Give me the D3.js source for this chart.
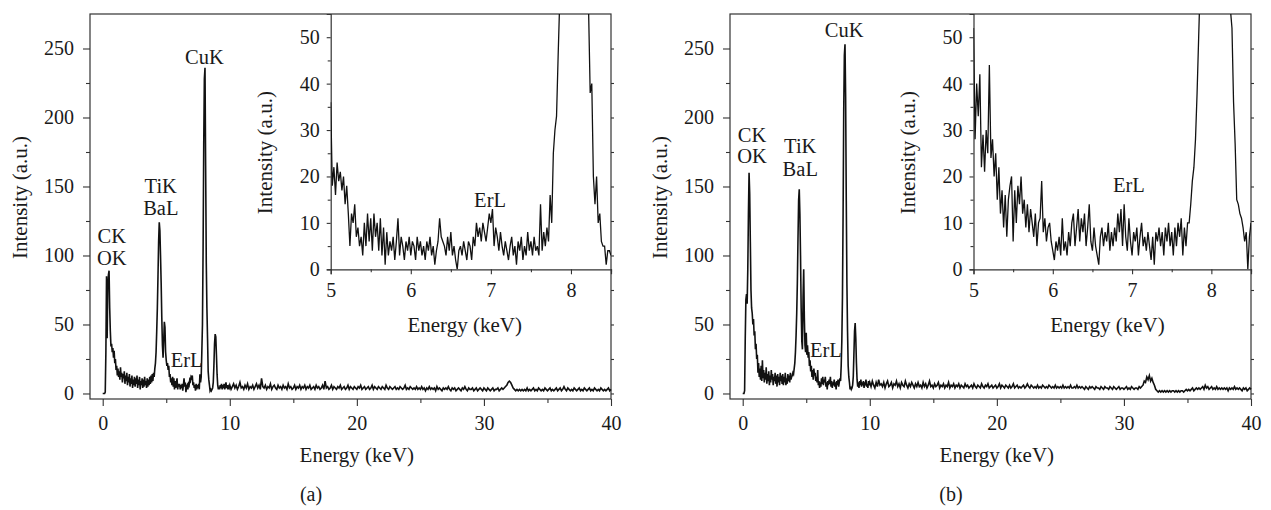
<!DOCTYPE html>
<html>
<head>
<meta charset="utf-8">
<script src="https://cdn.jsdelivr.net/npm/d3@7"></script>
<style>
  body { margin: 0; background: #fff; }
</style>
</head>
<body>
<div id="container"></div>
<script>
// EDS spectra, values (counts, a.u.)
// channel energies: 0-9.95 keV every 0.05, then 10-40 keV every 0.1, insets 5-8.5 keV every 0.02
var lowStep = 0.05;
var highStart = 10, highStep = 0.1;
var insetStart = 5, insetStep = 0.02;

var lowA = [
  0,0,0,0,1,30,85,40,78,86,
  89,62,45,34,36,30,33,26,31,22,
  25,17,20,13,18,12,16,10,19,12,
  15,8,14,11,16,7,13,9,15,6,
  12,8,14,5,11,7,13,4,10,6,
  12,5,11,7,13,4,10,6,12,3,
  9,6,11,4,10,5,12,6,9,4,
  11,5,10,6,12,7,13,8,14,9,
  15,12,18,22,30,45,62,85,110,124,
  118,100,80,55,35,26,38,52,48,30,
  24,20,22,17,20,12,14,8,11,6,
  12,5,11,3,9,4,8,11,3,7,
  5,7,3,6,4,7,2,6,11,5,
  8,1,5,6,3,7,6,10,9,12,
  11,13,6,8,4,6,2,7,3,6,
  4,7,3,14,8,12,30,50,105,180,
  228,236,165,95,62,40,16,10,6,2,
  3,2,3,4,8,20,36,43,41,28,
  14,6,3,5,3,6,4,7,3,6,
  4,7,3,5,8,4,6,3,5,4
];
var highA = [
  6,3,5,7,4,6,3,5,8,4,
  5,3,6,4,7,3,5,4,6,3,
  5,7,4,6,3,11,5,4,6,3,
  5,4,7,3,5,6,4,3,6,4,
  5,3,6,4,5,3,7,4,5,3,
  4,6,3,5,4,6,3,5,4,6,
  3,5,4,6,3,4,5,3,6,4,
  5,3,4,6,3,9,4,5,3,4,
  6,3,5,4,3,5,4,6,3,4,
  5,3,4,6,3,5,4,3,5,4,
  3,5,4,6,3,4,5,3,4,5,
  3,4,6,3,5,4,3,5,4,3,
  5,4,3,6,4,3,5,4,3,4,
  5,3,4,3,5,4,3,4,6,3,
  4,3,5,4,3,4,3,5,3,4,
  3,5,3,4,2,4,3,5,3,4,
  3,4,2,5,3,4,3,2,4,3,
  4,3,5,3,2,4,3,4,2,3,
  4,3,2,4,3,5,3,2,4,3,
  3,4,2,3,4,2,3,4,3,2,
  4,3,2,4,3,2,3,4,2,3,
  3,4,2,3,4,3,4,5,6,8,
  9,8,6,4,3,2,3,2,3,2,
  3,2,3,2,4,2,3,2,3,4,
  2,3,2,4,3,2,3,2,4,3,
  2,3,4,2,3,2,3,4,2,3,
  4,2,3,5,3,2,4,3,2,3,
  2,4,3,2,3,4,2,3,2,4,
  3,2,3,4,2,3,2,4,3,2,
  3,2,4,3,2,3,2,3,4,2,
  3
];
var insetA = [
  36,18,22,16,23,19,21,17,20,14,
  18,12,5,12,10,14,7,9,5,7,
  3,10,5,12,6,11,4,12,7,10,
  4,11,3,9,1,8,3,6,4,7,
  2,6,11,3,7,5,2,6,4,7,
  3,6,5,2,7,4,6,3,5,2,
  6,4,7,3,5,1,4,6,11,7,
  6,5,3,7,4,8,3,5,2,0,
  4,5,3,6,4,2,6,5,2,7,
  5,10,7,9,6,10,8,6,9,12,
  10,13,5,9,7,4,8,5,3,6,
  4,2,5,7,3,5,1,6,4,7,
  2,5,3,8,4,6,3,7,4,5,
  3,14,4,8,5,9,6,16,10,25,
  30,33,46,58,80,105,135,165,195,220,
  232,236,230,212,185,155,125,100,82,68,
  60,56,38,40,20,14,20,10,12,6,
  5,5,1,4,4,3
];

var lowB = [
  0,0,0,2,40,68,72,65,90,130,
  160,145,110,75,62,58,50,54,42,45,
  32,36,25,28,15,22,12,18,10,20,
  9,24,11,17,8,15,10,19,7,14,
  9,16,6,13,8,17,10,14,6,12,
  9,15,7,13,5,14,8,12,6,15,
  9,13,7,14,6,12,8,15,6,11,
  7,14,9,13,8,15,10,12,13,15,
  14,18,22,30,42,58,80,112,140,148,
  130,100,62,38,32,70,90,55,35,30,
  44,28,35,26,30,20,24,16,20,12,
  17,10,18,13,15,9,12,8,17,6,
  9,4,8,5,11,7,12,6,10,8,
  12,5,8,3,9,6,10,7,12,5,
  9,4,8,6,10,5,8,3,9,6,
  10,5,8,11,9,20,38,70,130,205,
  245,253,215,140,80,45,20,12,8,3,
  5,3,4,6,12,28,45,51,40,22,
  10,5,8,4,9,6,10,5,8,6,
  9,4,8,6,10,5,7,4,9,6
];
var highB = [
  8,5,9,6,4,8,5,10,6,7,
  5,8,4,7,9,5,6,8,4,7,
  6,9,5,7,4,8,6,5,9,6,
  4,7,5,8,6,4,7,5,8,5,
  6,4,8,5,7,4,6,9,5,6,
  4,7,5,6,8,4,6,5,7,4,
  6,5,8,4,6,5,7,4,6,5,
  7,4,6,5,4,7,5,6,4,5,
  6,4,7,5,4,6,5,4,7,5,
  4,6,5,7,4,5,6,4,5,6,
  4,5,7,4,6,5,4,6,5,4,
  6,4,5,7,4,5,6,4,5,4,
  5,6,4,5,7,5,4,6,5,4,
  5,4,6,4,5,4,6,5,4,5,
  4,6,5,4,5,4,6,4,5,4,
  5,4,6,4,5,4,5,4,6,4,
  4,5,4,6,4,5,4,5,4,3,
  5,4,3,5,4,5,4,3,5,4,
  4,3,5,4,3,5,4,4,3,5,
  4,3,5,4,3,4,5,3,4,4,
  3,4,5,3,4,3,5,4,3,4,
  4,3,5,4,5,6,9,8,12,10,
  13,9,11,8,6,3,2,1,2,1,
  2,1,2,1,2,1,2,1,2,2,
  1,2,1,2,1,2,2,1,2,3,
  2,3,2,3,4,2,3,4,3,4,
  3,4,5,3,6,4,5,3,4,5,
  3,4,3,5,3,4,3,4,3,4,
  3,4,2,4,3,4,3,5,3,4,
  3,4,3,2,4,3,4,2,3,4,
  3
];
var insetB = [
  52,28,40,33,42,22,29,21,30,25,
  44,24,28,20,25,15,22,12,17,9,
  16,7,15,18,20,6,17,10,18,14,
  20,12,15,9,14,8,13,10,7,12,
  5,10,11,19,8,11,6,9,10,6,
  4,2,6,4,7,3,11,4,6,3,
  8,5,10,12,5,9,13,6,11,8,
  12,5,9,14,6,4,9,5,3,1,
  7,9,5,8,6,10,4,8,5,9,
  6,12,8,13,5,14,7,4,11,6,
  3,8,6,9,3,7,10,5,7,4,
  8,5,2,7,1,8,6,9,5,8,
  3,9,6,10,5,8,3,9,5,10,
  7,11,3,9,5,10,10,14,19,22,
  28,38,50,62,85,115,150,190,225,245,
  253,250,235,210,180,150,120,95,78,66,
  60,57,56,52,36,27,15,14,12,11,
  9,6,8,0,7,10
];

// axes
var xTicks = [0, 10, 20, 30, 40], xMinor = [5, 15, 25, 35];
var yTicks = [0, 50, 100, 150, 200, 250], yMinor = [25, 75, 125, 175, 225];
var insetXTicks = [5, 6, 7, 8], insetXMinor = [5.5, 6.5, 7.5, 8.5];
var insetYTicks = [0, 10, 20, 30, 40, 50], insetYMinor = [5, 15, 25, 35, 45];

var font = "'Liberation Serif', 'Times New Roman', serif";
var ink = "#1a1a1a";

var svg = d3.select("#container")
  .append("svg")
    .attr("width", 1271)
    .attr("height", 510);

function styleAxis(sel, keepDomain) {
  if (!keepDomain) sel.select(".domain").remove();
  sel.attr("font-family", font).attr("font-size", 20);
  sel.selectAll("line").attr("stroke", "#333").attr("stroke-width", 1.1);
  sel.selectAll("text").attr("fill", ink);
}

function toPoints(vals, start, step) {
  return vals.map(function(v, i) { return [start + i * step, v]; });
}

function addText(parent, str, size) {
  return parent.append("text")
    .attr("text-anchor", "middle")
    .attr("font-family", font)
    .attr("font-size", size || 20.5)
    .attr("fill", ink)
    .text(str);
}

function drawPanel(p) {
  var w = 521, h = 385;
  var g = svg.append("g")
    .attr("transform", "translate(" + p.left + ",14)");

  var x = d3.scaleLinear().domain([-1, 40]).range([0, w]);
  var y = d3.scaleLinear().domain([-4, 275]).range([h, 0]);

  // Y axis (left, major + minor) and mirror ticks on the right
  g.append("g").call(d3.axisLeft(y).tickValues(yTicks).tickSize(7).tickPadding(9))
    .call(styleAxis);
  g.append("g").call(d3.axisLeft(y).tickValues(yMinor).tickSize(4).tickFormat(""))
    .call(styleAxis);
  g.append("g").attr("transform", "translate(" + w + ",0)")
    .call(d3.axisRight(y).tickValues(yTicks.concat(yMinor)).tickSize(3).tickFormat(""))
    .call(styleAxis);

  // X axis
  g.append("g").attr("transform", "translate(0," + h + ")")
    .call(d3.axisBottom(x).tickValues(xTicks).tickSize(7).tickPadding(10))
    .call(styleAxis);
  g.append("g").attr("transform", "translate(0," + h + ")")
    .call(d3.axisBottom(x).tickValues(xMinor).tickSize(4).tickFormat(""))
    .call(styleAxis);

  // frame
  g.append("rect")
    .attr("width", w).attr("height", h)
    .attr("fill", "none").attr("stroke", "#333").attr("stroke-width", 1.2);

  // spectrum
  var data = toPoints(p.low, 0, lowStep).concat(toPoints(p.high, highStart, highStep));
  var line = d3.line()
    .x(function(d) { return x(d[0]); })
    .y(function(d) { return y(d[1]); });

  g.append("path")
    .datum(data)
    .attr("d", line)
    .attr("fill", "none")
    .attr("stroke", "#111")
    .attr("stroke-width", 1.6);

  // peak labels
  p.labels.forEach(function(l) {
    addText(g, l[0]).attr("x", x(l[1])).attr("y", y(l[2]));
  });

  // axis titles
  addText(g, "Intensity (a.u.)", 21)
    .attr("transform", "translate(-63," + (h / 2 - 9) + ") rotate(-90)");
  addText(g, "Energy (keV)", 21)
    .attr("x", (x(0) + x(40)) / 2).attr("y", h + 63);

  // inset: zoom on 5-8.5 keV
  var ix0 = p.insetLeft - p.left, iw = w - ix0, ih = 255.3;
  var ig = g.append("g").attr("transform", "translate(" + ix0 + ",0)");
  var ix = d3.scaleLinear().domain([5, 8.5]).range([0, iw]);
  var iy = d3.scaleLinear().domain([0, 55]).range([ih, 0]);

  ig.append("clipPath").attr("id", "clip" + p.id)
    .append("rect").attr("width", iw).attr("height", ih);

  ig.append("g").call(d3.axisLeft(iy).tickValues(insetYTicks).tickSize(4).tickPadding(7))
    .call(styleAxis, true);
  ig.append("g").call(d3.axisLeft(iy).tickValues(insetYMinor).tickSize(3).tickFormat(""))
    .call(styleAxis);
  ig.append("g").attr("transform", "translate(0," + ih + ")")
    .call(d3.axisBottom(ix).tickValues(insetXTicks).tickSize(5).tickPadding(9).tickFormat(d3.format("d")))
    .call(styleAxis, true);
  ig.append("g").attr("transform", "translate(0," + ih + ")")
    .call(d3.axisBottom(ix).tickValues(insetXMinor).tickSize(3).tickFormat(""))
    .call(styleAxis);
  ig.selectAll(".domain").attr("stroke", "#333").attr("stroke-width", 1.2);

  var iline = d3.line()
    .x(function(d) { return ix(d[0]); })
    .y(function(d) { return iy(d[1]); });

  ig.append("path")
    .datum(toPoints(p.inset, insetStart, insetStep))
    .attr("d", iline)
    .attr("clip-path", "url(#clip" + p.id + ")")
    .attr("fill", "none")
    .attr("stroke", "#111")
    .attr("stroke-width", 1.3);

  addText(ig, "ErL").attr("x", ix(p.insetErL[0])).attr("y", iy(p.insetErL[1]));

  addText(ig, "Intensity (a.u.)", 21)
    .attr("transform", "translate(-59," + (ih / 2 + 11) + ") rotate(-90)");
  addText(ig, "Energy (keV)", 21)
    .attr("x", 134).attr("y", ih + 63);

  // panel letter
  addText(svg, p.name, 20).attr("x", p.left + 221).attr("y", 501);
}

drawPanel({
  id: "a", name: "(a)", left: 90, insetLeft: 330.7,
  low: lowA, high: highA, inset: insetA,
  labels: [["CK", 0.72, 109], ["OK", 0.72, 93], ["TiK", 4.57, 145], ["BaL", 4.57, 129],
           ["CuK", 8.0, 239], ["ErL", 6.6, 19]],
  insetErL: [6.99, 13.5]
});
drawPanel({
  id: "b", name: "(b)", left: 730, insetLeft: 973.5,
  low: lowB, high: highB, inset: insetB,
  labels: [["CK", 0.73, 182], ["OK", 0.73, 167], ["TiK", 4.53, 174], ["BaL", 4.53, 157.5],
           ["CuK", 7.99, 258], ["ErL", 6.55, 26.5]],
  insetErL: [6.96, 16.7]
});
</script>
</body>
</html>
